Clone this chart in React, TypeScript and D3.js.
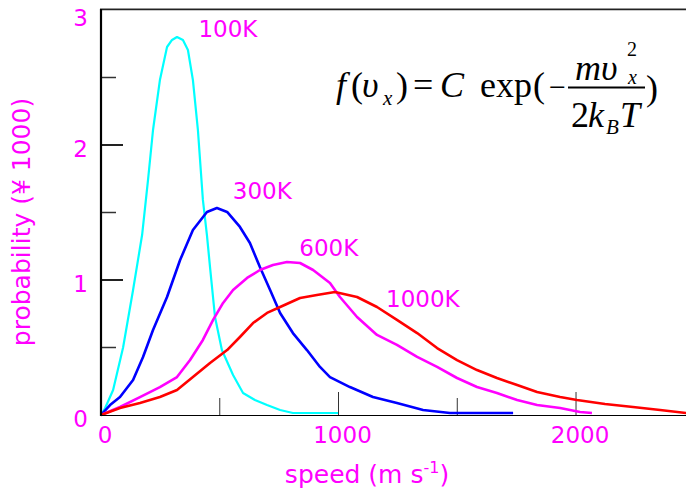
import React from 'react';
import * as d3 from 'd3';

// ---- data (speed in m/s, probability ×1000) ----
const speed100K = [0, 17, 51, 93, 135, 173, 198, 219, 248, 278, 299, 320, 345, 366, 387, 408, 429, 446, 459, 480, 509, 556, 598, 648, 699, 754, 808, 998];
const prob100K = [0, 0.05, 0.185, 0.5, 0.926, 1.333, 1.741, 2.111, 2.481, 2.726, 2.778, 2.8, 2.778, 2.704, 2.481, 2.111, 1.593, 1.333, 1.096, 0.726, 0.481, 0.296, 0.163, 0.111, 0.074, 0.037, 0.015, 0.015];

const speed300K = [0, 38, 80, 135, 177, 219, 278, 333, 387, 446, 488, 531, 585, 627, 669, 712, 754, 808, 867, 922, 964, 1048, 1145, 1246, 1356, 1469, 1735];
const prob300K = [0, 0.074, 0.133, 0.259, 0.43, 0.63, 0.874, 1.148, 1.37, 1.504, 1.533, 1.504, 1.393, 1.274, 1.096, 0.926, 0.756, 0.607, 0.481, 0.356, 0.281, 0.207, 0.133, 0.089, 0.037, 0.015, 0.015];

const speed600K = [0, 80, 164, 248, 320, 375, 429, 472, 514, 556, 615, 669, 724, 783, 838, 893, 964, 1006, 1078, 1162, 1246, 1331, 1415, 1499, 1583, 1667, 1752, 1836, 1933, 2017, 2067];
const prob600K = [0, 0.059, 0.133, 0.207, 0.281, 0.407, 0.556, 0.704, 0.83, 0.926, 1.015, 1.074, 1.111, 1.133, 1.126, 1.074, 0.978, 0.874, 0.726, 0.593, 0.519, 0.43, 0.356, 0.274, 0.207, 0.163, 0.111, 0.074, 0.052, 0.022, 0.015];

const speed1000K = [0, 80, 164, 248, 320, 387, 459, 531, 585, 640, 699, 754, 838, 909, 985, 1078, 1162, 1246, 1331, 1415, 1499, 1583, 1667, 1752, 1836, 1933, 2004, 2122, 2240, 2354, 2463, 2520];
const prob1000K = [0, 0.052, 0.089, 0.133, 0.185, 0.281, 0.385, 0.481, 0.578, 0.681, 0.756, 0.8, 0.867, 0.889, 0.911, 0.874, 0.8, 0.704, 0.607, 0.496, 0.407, 0.333, 0.274, 0.222, 0.17, 0.133, 0.111, 0.081, 0.059, 0.037, 0.015, 0.01];

const seriesNames = ['100K', '300K', '600K', '1000K'];
const seriesColors = ['#00ffff', '#0000ff', '#ff00ff', '#ff0000'];
const seriesSpeeds = [speed100K, speed300K, speed600K, speed1000K];
const seriesProbs = [prob100K, prob300K, prob600K, prob1000K];
const seriesLabelAt = [[410, 2.8], [555, 1.6], [835, 1.18], [1200, 0.8]]; // label anchor in data units

const xMajorTicks = [0, 1000, 2000];
const xMinorTicks = [500, 1500];
const yMajorTicks = [0, 1, 2, 3];
const yMinorTicks = [0.5, 1.5, 2.5];

const W = 686;
const H = 490;
const MAG = '#ff00ff';
const SANS = '"DejaVu Sans", Verdana, sans-serif';
const SERIF = '"Liberation Serif", "Times New Roman", serif';

export default function App() {
  const x = d3.scaleLinear().domain([0, 2463]).range([101, 686]);
  const y = d3.scaleLinear().domain([0, 3]).range([415, 10]);

  const line = d3
    .line<[number, number]>()
    .x((d) => x(d[0]))
    .y((d) => y(d[1]));

  const FS = 36;

  return (
    <svg
      width={W}
      height={H}
      viewBox={`0 0 ${W} ${H}`}
      style={{ position: 'absolute', left: 0, top: 0, background: '#fff' }}
    >
      <defs>
        <clipPath id="plotClip">
          <rect x={100} y={0} width={W - 100} height={417} />
        </clipPath>
      </defs>
      <rect x={0} y={0} width={W} height={H} fill="#fff" />

      {/* top frame line */}
      <line x1={100} x2={W} y1={8.5} y2={8.5} stroke="#bbb" strokeWidth={1} />
      <line x1={100} x2={W} y1={9.5} y2={9.5} stroke="#222" strokeWidth={1.5} />

      {/* y ticks */}
      {yMajorTicks.filter((t) => t > 0 && t < 3).map((t) => (
        <line key={'ym' + t} x1={101} x2={123} y1={y(t)} y2={y(t)} stroke="#222" strokeWidth={2} />
      ))}
      {yMinorTicks.map((t) => (
        <line key={'yn' + t} x1={101} x2={116} y1={y(t)} y2={y(t)} stroke="#333" strokeWidth={1.5} />
      ))}
      {/* x ticks */}
      {xMajorTicks.filter((t) => t > 0).map((t) => (
        <line key={'xm' + t} x1={x(t)} x2={x(t)} y1={415} y2={392} stroke="#333" strokeWidth={1} />
      ))}
      {xMinorTicks.map((t) => (
        <line key={'xn' + t} x1={x(t)} x2={x(t)} y1={415} y2={398} stroke="#333" strokeWidth={1} />
      ))}

      {/* curves */}
      <g clipPath="url(#plotClip)">
        {seriesNames.map((name, i) => (
          <path
            key={name}
            d={line(seriesSpeeds[i].map((s, j) => [s, seriesProbs[i][j]] as [number, number])) || ''}
            fill="none"
            stroke={seriesColors[i]}
            strokeWidth={i === 0 ? 2.2 : 2.6}
            strokeLinejoin="round"
          />
        ))}
      </g>

      {/* axes */}
      <line x1={101} x2={101} y1={9} y2={416} stroke="#000" strokeWidth={2.2} />
      <line x1={100} x2={W} y1={415.5} y2={415.5} stroke="#000" strokeWidth={1.2} />

      {/* y tick labels */}
      {yMajorTicks.map((t) => (
        <text
          key={'yl' + t}
          x={88}
          y={Math.max(y(t) + 4, 18)}
          dominantBaseline="central"
          textAnchor="end"
          fontFamily={SANS}
          fontSize={23}
          fill={MAG}
        >
          {t}
        </text>
      ))}
      {/* x tick labels */}
      {xMajorTicks.map((t) => (
        <text
          key={'xl' + t}
          x={x(t) + 4}
          y={443}
          textAnchor="middle"
          fontFamily={SANS}
          fontSize={23}
          fill={MAG}
        >
          {t}
        </text>
      ))}

      {/* series labels */}
      {seriesNames.map((name, i) => (
        <text
          key={'sl' + name}
          x={x(seriesLabelAt[i][0])}
          y={y(seriesLabelAt[i][1])}
          fontFamily={SANS}
          fontSize={23}
          fill={MAG}
        >
          {name}
        </text>
      ))}

      {/* axis titles */}
      <text
        transform="translate(30,222) rotate(-90)"
        textAnchor="middle"
        fontFamily={SANS}
        fontSize={25}
        fill={MAG}
      >
        probability (¥ 1000)
      </text>
      <text x={367} y={483} textAnchor="middle" fontFamily={SANS} fontSize={25} fill={MAG}>
        speed (m s
        <tspan dy={-10} fontSize={16}>-1</tspan>
        <tspan dy={10}>)</tspan>
      </text>

      {/* formula */}
      <g fontFamily={SERIF} fill="#000">
        <text x={336} y={97} fontSize={FS} fontStyle="italic">f</text>
        <text x={351} y={97} fontSize={FS}>(</text>
        <text x={362} y={97} fontSize={FS} fontStyle="italic">υ</text>
        <text x={383} y={105} fontSize={21} fontStyle="italic">x</text>
        <text x={396} y={97} fontSize={FS}>)</text>
        <text x={413} y={97} fontSize={FS}>=</text>
        <text x={440} y={97} fontSize={FS} fontStyle="italic">C</text>
        <text x={480} y={97} fontSize={FS}>exp</text>
        <text x={533} y={97} fontSize={FS}>(</text>
        <text x={549} y={97} fontSize={30}>−</text>
        <line x1={568} x2={645} y1={87.5} y2={87.5} stroke="#000" strokeWidth={1.8} />
        <text x={575} y={80} fontSize={FS} fontStyle="italic">m</text>
        <text x={601} y={80} fontSize={FS} fontStyle="italic">υ</text>
        <text x={627} y={56} fontSize={20}>2</text>
        <text x={628} y={84} fontSize={20} fontStyle="italic">x</text>
        <text x={571} y={127} fontSize={FS}>2</text>
        <text x={588} y={127} fontSize={FS} fontStyle="italic">k</text>
        <text x={606} y={134} fontSize={21} fontStyle="italic">B</text>
        <text x={620} y={127} fontSize={FS} fontStyle="italic">T</text>
        <text x={646} y={100} fontSize={FS}>)</text>
      </g>
    </svg>
  );
}
